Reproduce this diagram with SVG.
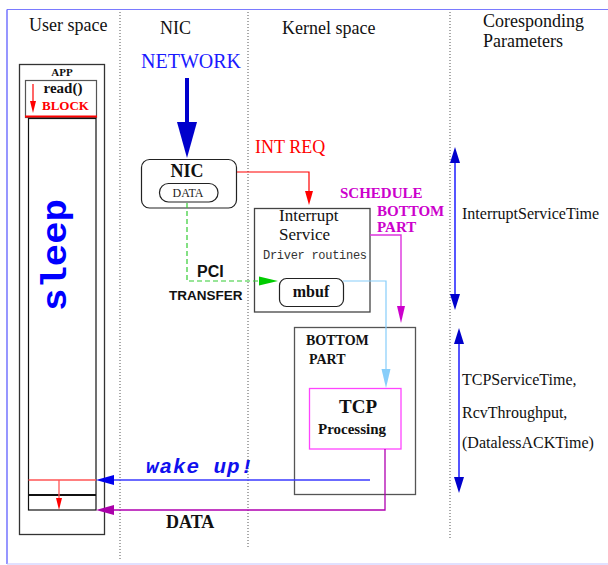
<svg xmlns="http://www.w3.org/2000/svg" width="608" height="565" viewBox="0 0 608 565">
  <style>
    .serif { font-family: "Liberation Serif", "Times New Roman", serif; }
    .sans { font-family: "Liberation Sans", Arial, sans-serif; }
    .mono { font-family: "Liberation Mono", "Courier New", monospace; }
    .hdr { font-size: 18px; fill: #111; }
    .param { font-size: 16px; fill: #111; }
    .b { font-weight: bold; }
    .box { fill: none; stroke: #444; stroke-width: 1.3; }
    .sep { stroke: #555; stroke-width: 1; stroke-dasharray: 1 2; }
    .conn { fill: none; }
  </style>
  <defs>
    <marker id="hBig" markerUnits="userSpaceOnUse" markerWidth="36" markerHeight="20" refX="0" refY="10" orient="auto" overflow="visible">
      <path d="M0,0 L36,10 L0,20 Z" fill="#0000cc"/>
    </marker>
    <marker id="hRed" markerUnits="userSpaceOnUse" markerWidth="14" markerHeight="8" refX="0" refY="4" orient="auto" overflow="visible">
      <path d="M0,0 L14,4 L0,8 Z" fill="#ff0000"/>
    </marker>
    <marker id="hRedS" markerUnits="userSpaceOnUse" markerWidth="12" markerHeight="6" refX="0" refY="3" orient="auto" overflow="visible">
      <path d="M0,0 L12,3 L0,6 Z" fill="#ff0000"/>
    </marker>
    <marker id="hGreen" markerUnits="userSpaceOnUse" markerWidth="19" markerHeight="9" refX="0" refY="4.5" orient="auto" overflow="visible">
      <path d="M0,0 L19,4.5 L0,9 Z" fill="#00cc00"/>
    </marker>
    <marker id="hMag" markerUnits="userSpaceOnUse" markerWidth="17" markerHeight="8" refX="0" refY="4" orient="auto" overflow="visible">
      <path d="M0,0 L17,4 L0,8 Z" fill="#cc00cc"/>
    </marker>
    <marker id="hSky" markerUnits="userSpaceOnUse" markerWidth="19" markerHeight="9" refX="0" refY="4.5" orient="auto" overflow="visible">
      <path d="M0,0 L19,4.5 L0,9 Z" fill="#87cefa"/>
    </marker>
    <marker id="hBlue" markerUnits="userSpaceOnUse" markerWidth="18" markerHeight="10" refX="0" refY="5" orient="auto" overflow="visible">
      <path d="M0,0 L18,5 L0,10 Z" fill="#0000ee"/>
    </marker>
    <marker id="hData" markerUnits="userSpaceOnUse" markerWidth="18" markerHeight="10" refX="0" refY="5" orient="auto" overflow="visible">
      <path d="M0,0 L18,5 L0,10 Z" fill="#aa00aa"/>
    </marker>
    <marker id="hSpan" markerUnits="userSpaceOnUse" markerWidth="16" markerHeight="10" refX="0" refY="5" orient="auto-start-reverse" overflow="visible">
      <path d="M0,0 L16,5 L0,10 Z" fill="#0000cc"/>
    </marker>
  </defs>

  <rect width="608" height="565" fill="#ffffff"/>

  <!-- outer frame -->
  <g id="frame">
    <line x1="7" y1="9.5" x2="608" y2="9.5" stroke="#7a7aff" stroke-width="1.2"/>
    <line x1="7" y1="9.5" x2="7" y2="564" stroke="#6a6aff" stroke-width="1.4"/>
    <line x1="7" y1="564" x2="608" y2="564" stroke="#c4c4ff" stroke-width="1.2"/>
  </g>

  <!-- column separators -->
  <g id="separators">
    <line class="sep" x1="120" y1="12" x2="120" y2="560"/>
    <line class="sep" x1="248" y1="12" x2="248" y2="548"/>
    <line class="sep" x1="450" y1="12" x2="450" y2="540"/>
  </g>

  <!-- column headings -->
  <g id="headings" class="serif hdr">
    <text x="29" y="31">User space</text>
    <text x="160" y="34">NIC</text>
    <text x="282" y="34">Kernel space</text>
    <text x="483" y="27">Coresponding</text>
    <text x="483" y="47">Parameters</text>
  </g>

  <!-- application in user space -->
  <g id="app">
    <rect x="19.5" y="64.5" width="85" height="470" fill="none" stroke="#333" stroke-width="1.3"/>
    <text class="serif b" x="62" y="76" font-size="11" text-anchor="middle" fill="#111">APP</text>
    <rect x="25.5" y="80.5" width="71" height="37" fill="none" stroke="#555" stroke-width="1.2"/>
    <text class="serif b" x="63" y="93" font-size="15" text-anchor="middle" fill="#111">read()</text>
    <text class="serif b" x="42" y="110" font-size="13" fill="#ff0000">BLOCK</text>
    <line x1="25" y1="116.5" x2="97" y2="116.5" stroke="#ff0000" stroke-width="2"/>
    <line class="conn" x1="33" y1="84" x2="33" y2="101" stroke="#ff0000" stroke-width="1.2" marker-end="url(#hRedS)"/>
    <rect x="28.5" y="118.5" width="67.5" height="391.5" fill="none" stroke="#111" stroke-width="1.2"/>
    <text class="mono b" transform="translate(66,311) rotate(-90)" font-size="35" textLength="112" lengthAdjust="spacingAndGlyphs" fill="#0000ff">sleep</text>
    <line x1="28.5" y1="480" x2="96" y2="480" stroke="#ff5555" stroke-width="1.3"/>
    <line x1="28.5" y1="495" x2="96" y2="495" stroke="#111" stroke-width="2"/>
    <line class="conn" x1="59" y1="480" x2="59" y2="498" stroke="#ff5555" stroke-width="1.3" marker-end="url(#hRedS)"/>
  </g>

  <!-- network interface card -->
  <g id="nic">
    <text class="serif" x="141" y="68" font-size="20" fill="#1a1aff">NETWORK</text>
    <rect x="141.5" y="159.5" width="95" height="48.5" rx="8" fill="none" stroke="#222" stroke-width="1.2"/>
    <text class="serif b" x="187" y="177" font-size="18" text-anchor="middle" fill="#111">NIC</text>
    <rect x="159.5" y="183.5" width="58.5" height="18.5" rx="9" fill="none" stroke="#222" stroke-width="1.2"/>
    <text class="serif" x="188" y="197" font-size="12" text-anchor="middle" fill="#222">DATA</text>
  </g>

  <!-- interrupt service routine -->
  <g id="interrupt">
    <rect class="box" x="254.5" y="208.5" width="115.5" height="103.5"/>
    <text class="serif" x="279" y="221" font-size="17" fill="#111">Interrupt</text>
    <text class="serif" x="279" y="239.5" font-size="17" fill="#111">Service</text>
    <text class="mono" x="263" y="259" font-size="12" textLength="104" fill="#333">Driver routines</text>
  </g>

  <g id="mbuf">
    <rect x="279.5" y="278.5" width="64" height="28" rx="7" fill="none" stroke="#222" stroke-width="1.2"/>
    <text class="serif b" x="311" y="297" font-size="16" text-anchor="middle" fill="#111">mbuf</text>
  </g>

  <!-- bottom half of the driver -->
  <g id="bottom-part">
    <rect x="294.5" y="327.5" width="121" height="167" fill="none" stroke="#555" stroke-width="1.3"/>
    <text class="serif b" x="306" y="345" font-size="14" fill="#111">BOTTOM</text>
    <text class="serif b" x="309" y="364" font-size="14" fill="#111">PART</text>
  </g>

  <g id="tcp">
    <rect x="309.5" y="388.5" width="91.5" height="60.5" fill="none" stroke="#ff44ff" stroke-width="1.3"/>
    <text class="serif b" x="358" y="413" font-size="19" text-anchor="middle" fill="#111">TCP</text>
    <text class="serif b" x="318" y="434" font-size="15" fill="#111">Processing</text>
  </g>

  <!-- connectors -->
  <g id="connectors">
    <line class="conn" x1="187" y1="78" x2="187" y2="122" stroke="#0000cc" stroke-width="4" marker-end="url(#hBig)"/>
    <polyline class="conn" points="237,172 309,172 309,191" stroke="#ff0000" stroke-width="1.2" marker-end="url(#hRed)"/>
    <polyline class="conn" points="187,203 187,281 259,281" stroke="#33cc33" stroke-width="1.2" stroke-dasharray="5 3" marker-end="url(#hGreen)"/>
    <polyline class="conn" points="370,235 401,235 401,306" stroke="#dd33dd" stroke-width="1.4" marker-end="url(#hMag)"/>
    <polyline class="conn" points="343,281 386,281 386,369" stroke="#87cefa" stroke-width="1.2" marker-end="url(#hSky)"/>
    <line class="conn" x1="370" y1="480" x2="114" y2="480" stroke="#3a3aff" stroke-width="1.3" marker-end="url(#hBlue)"/>
    <polyline class="conn" points="385,449 385,510 114,510" stroke="#b000b0" stroke-width="1.3" marker-end="url(#hData)"/>
    <line class="conn" x1="455" y1="163" x2="455" y2="294" stroke="#5555ff" stroke-width="2" marker-start="url(#hSpan)" marker-end="url(#hSpan)"/>
    <line class="conn" x1="459" y1="344" x2="459" y2="477" stroke="#5555ff" stroke-width="2" marker-start="url(#hSpan)" marker-end="url(#hSpan)"/>
  </g>

  <!-- connector labels -->
  <g id="connector-labels">
    <text class="serif" x="255" y="153" font-size="18" fill="#ff0000">INT REQ</text>
    <text class="sans b" x="197" y="277" font-size="16" fill="#111">PCI</text>
    <text class="sans b" x="169" y="300" font-size="13.5" fill="#111">TRANSFER</text>
    <text class="serif b" x="340" y="198" font-size="15" fill="#cc00cc">SCHEDULE</text>
    <text class="serif b" x="377" y="216" font-size="15" fill="#cc00cc">BOTTOM</text>
    <text class="serif b" x="377" y="232" font-size="15" fill="#cc00cc">PART</text>
    <text class="mono b" x="146" y="473" font-size="21" font-style="italic" textLength="107" fill="#1010ee">wake up!</text>
    <text class="serif b" x="166" y="528" font-size="18" fill="#111">DATA</text>
  </g>

  <!-- measured parameters -->
  <g id="params" class="serif param">
    <text x="462" y="219">InterruptServiceTime</text>
    <text x="462" y="385">TCPServiceTime,</text>
    <text x="462" y="418">RcvThroughput,</text>
    <text x="462" y="448">(DatalessACKTime)</text>
  </g>
</svg>
